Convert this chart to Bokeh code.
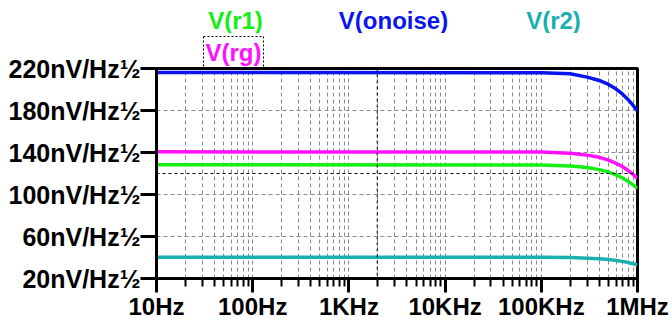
from bokeh.plotting import figure
from bokeh.layouts import column
from bokeh.models import FixedTicker, Span
from bokeh.core.properties import value
from bokeh.embed import file_html
from bokeh.resources import INLINE

# ---- data ----
freq = [10, 1e5, 2e5, 3e5, 4e5, 5e5, 6e5, 7e5, 8e5, 9e5, 1e6]
v_onoise = [216.2, 216.0, 215.0, 211.8, 208.6, 204.8, 200.4, 195.5, 190.3, 184.9, 179.5]
v_rg = [140.6, 140.5, 139.2, 137.5, 135.4, 132.7, 129.7, 126.4, 122.8, 119.1, 115.4]
v_r1 = [128.3, 128.2, 127.1, 125.7, 123.7, 121.4, 118.7, 115.7, 112.5, 109.2, 105.8]
v_r2 = [40.3, 40.3, 39.9, 39.4, 38.8, 38.1, 37.2, 36.3, 35.2, 34.1, 33.0]

series_names = ["V(r1)", "V(onoise)", "V(r2)", "V(rg)"]

x_ticks = [10, 100, 1000, 10000, 100000, 1000000]
x_tick_labels = ["10Hz", "100Hz", "1KHz", "10KHz", "100KHz", "1MHz"]
y_ticks = [20, 60, 100, 140, 180, 220]
y_tick_labels = ["20nV/Hz½", "60nV/Hz½", "100nV/Hz½", "140nV/Hz½", "180nV/Hz½", "220nV/Hz½"]

cursor_freq = 1970
cursor_level = 120

# ---- styles ----
GREEN = "#14ee14"
BLUE = "#0a14f0"
CYAN = "#18b0b0"
MAGENTA = "#ff10ff"
FONT = "Liberation Sans"
W = 672
TOP_H = 33
MAIN_H = 322 - TOP_H
FRAME_L, FRAME_R = 156, 637

# ---- legend strip (first row of trace names, LTspice style) ----
leg = figure(width=W, height=TOP_H, x_range=(FRAME_L, FRAME_R), y_range=(TOP_H, 0),
             output_backend="svg", toolbar_location=None,
             x_axis_location=None, y_axis_location=None,
             min_border_left=FRAME_L, min_border_right=W - FRAME_R,
             min_border_top=0, min_border_bottom=0)
leg.grid.visible = False
leg.outline_line_color = None
leg.background_fill_color = "white"
leg.border_fill_color = "white"

leg.text(x=[235, 393, 553], y=[20, 20, 20], text=series_names[:3],
         text_color=[GREEN, BLUE, CYAN],
         text_align="center", text_baseline="middle",
         text_font=value(FONT), text_font_style="bold", text_font_size="24px")

# ---- main plot ----
p = figure(width=W, height=MAIN_H, x_axis_type="log",
           x_range=(10, 1e6), y_range=(20, 220),
           output_backend="svg", toolbar_location=None,
           min_border_left=FRAME_L, min_border_right=W - FRAME_R,
           min_border_top=66 - TOP_H, min_border_bottom=43)
p.background_fill_color = "white"
p.border_fill_color = "white"
p.outline_line_color = "black"
p.outline_line_width = 3

# second row of trace names: the boxed V(rg)
p.title.text = series_names[3]
p.title.align = "left"
p.title.offset = 47
p.title.standoff = 2
p.title.text_font = FONT
p.title.text_font_style = "bold"
p.title.text_font_size = "24px"
p.title.text_color = MAGENTA
p.title.border_line_color = "black"
p.title.border_line_dash = "2 2"
p.title.border_line_width = 1
p.title.padding = 2

minor = [m * d for d in x_ticks[:-1] for m in range(2, 10)]
p.xaxis.ticker = FixedTicker(ticks=x_ticks, minor_ticks=minor)
p.xaxis.major_label_overrides = dict(zip(x_ticks, x_tick_labels))
p.yaxis.ticker = FixedTicker(ticks=y_ticks, minor_ticks=[])
p.yaxis.major_label_overrides = dict(zip(y_ticks, y_tick_labels))

for ax in (p.xaxis[0], p.yaxis[0]):
    ax.axis_line_width = 3
    ax.axis_line_color = "black"
    ax.major_tick_line_width = 3
    ax.major_tick_line_color = "black"
    ax.major_tick_in = 0
    ax.minor_tick_in = 0
    ax.major_label_text_font = FONT
    ax.major_label_text_font_style = "bold"
    ax.major_label_text_color = "black"

p.xaxis.major_label_text_font_size = "24px"
p.yaxis.major_label_text_font_size = "25px"
p.xaxis.major_tick_out = 14
p.xaxis.minor_tick_out = 8
p.xaxis.minor_tick_line_width = 2
p.xaxis.minor_tick_line_color = "black"
p.xaxis.major_label_standoff = 0
p.yaxis.major_tick_out = 16
p.yaxis.minor_tick_out = 0
p.yaxis.major_label_standoff = 0

for g in (p.xgrid[0], p.ygrid[0]):
    g.grid_line_color = "#8a8a8a"
    g.grid_line_dash = "4 3"
    g.grid_line_width = 1
p.xgrid.minor_grid_line_color = "#8a8a8a"
p.xgrid.minor_grid_line_dash = "4 3"
p.xgrid.minor_grid_line_width = 1

# cursors
p.add_layout(Span(location=cursor_freq, dimension="height", line_color="black",
                  line_dash="3 3", line_width=1))
p.add_layout(Span(location=cursor_level, dimension="width", line_color="black",
                  line_dash="3 3", line_width=1))

p.line(freq, v_r2, line_color=CYAN, line_width=3.5)
p.line(freq, v_r1, line_color=GREEN, line_width=3.5)
p.line(freq, v_rg, line_color=MAGENTA, line_width=3.5)
p.line(freq, v_onoise, line_color=BLUE, line_width=3.5)

layout = column(leg, p, spacing=0)
open("out.html", "w").write(file_html(layout, INLINE))
